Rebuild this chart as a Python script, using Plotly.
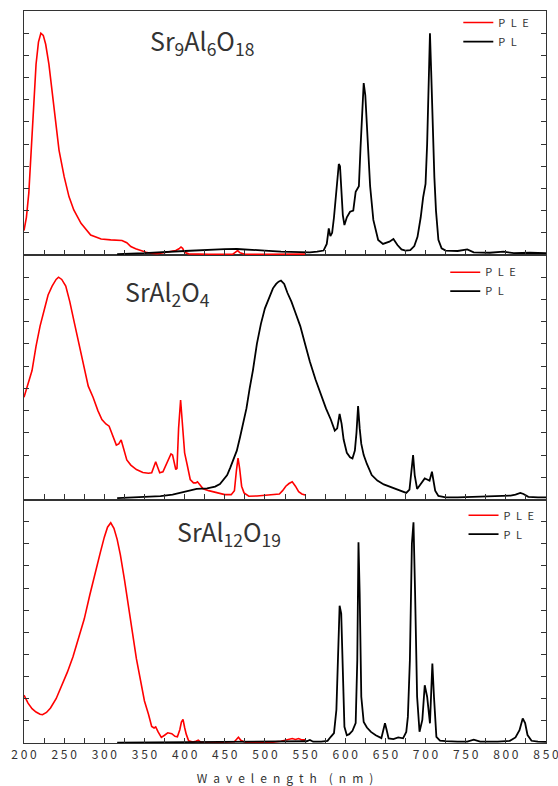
import plotly.graph_objects as go

# ---------------- data ----------------
# Top panel: Sr9Al6O18
sr9_ple_x = [200, 203, 206, 209, 212, 215, 218, 221, 224, 227, 231, 235, 239, 243.6, 250, 256, 262, 271, 283, 296,
             308, 322, 328, 333, 339, 345, 352, 358, 366, 374, 383, 389, 393, 395.5, 397.5, 400, 405, 412, 430,
             450, 460, 463, 466, 469, 475, 500, 520, 535, 550]
sr9_ple_y = [0.11, 0.17, 0.28, 0.48, 0.68, 0.86, 0.96, 1.0, 0.99, 0.95, 0.86, 0.74, 0.6, 0.473, 0.353, 0.263, 0.203,
             0.143, 0.09, 0.072, 0.068, 0.065, 0.055, 0.038, 0.028, 0.02, 0.012, 0.008, 0.006, 0.01, 0.015, 0.02,
             0.028, 0.036, 0.03, 0.012, 0.005, 0.004, 0.003, 0.003, 0.004, 0.012, 0.02, 0.01, 0.003, 0.003, 0.004,
             0.005, 0.004]

sr9_pl_x = [316, 350, 400, 430, 450, 465, 480, 500, 520, 540, 556, 565, 573, 577, 579.5, 581.5, 583.7, 586, 588, 590,
            592, 593.5, 595, 597, 599, 602, 606, 610, 613, 617, 619, 621, 623, 625, 628, 631, 635, 641, 647, 651,
            655, 660, 665, 670, 675, 681, 686, 690, 694, 697, 700, 702, 703.5, 705.5, 707, 709, 711, 713, 716,
            720, 725, 740, 752, 760, 780, 797, 810, 830, 850]
sr9_pl_y = [0.004, 0.008, 0.018, 0.024, 0.026, 0.027, 0.025, 0.02, 0.015, 0.012, 0.012, 0.015, 0.02, 0.05, 0.12,
            0.085, 0.1, 0.17, 0.26, 0.34, 0.41, 0.40, 0.30, 0.18, 0.135, 0.17, 0.195, 0.2, 0.285, 0.31, 0.48, 0.67,
            0.775, 0.72, 0.5, 0.31, 0.158, 0.068, 0.05, 0.055, 0.06, 0.072, 0.045, 0.025, 0.02, 0.022, 0.04, 0.082,
            0.17, 0.26, 0.32, 0.5, 0.75, 1.0, 0.83, 0.53, 0.35, 0.2, 0.068, 0.03, 0.02, 0.018, 0.025, 0.012, 0.01,
            0.015, 0.008, 0.01, 0.008]

# Middle panel: SrAl2O4
sral2_ple_x = [200, 205, 210, 215, 220, 225, 230, 235, 240, 243, 247, 252, 257, 263, 268, 274, 280, 286, 292, 297,
               302, 306, 310, 315, 318, 321, 324, 328, 333, 340, 348, 355, 359, 362, 364, 366, 369, 373, 377, 381,
               383, 385, 387, 389, 390.5, 392.5, 395, 397.5, 400, 403, 407, 411, 414, 416, 419, 423, 430, 440, 450,
               458, 462, 464.5, 466.5, 468.5, 471, 474, 480, 490, 500, 510, 518, 522, 526, 530, 534, 538, 542, 546,
               550]
sral2_ple_y = [0.46, 0.52, 0.58, 0.69, 0.78, 0.85, 0.92, 0.96, 0.99, 1.0, 0.99, 0.96, 0.89, 0.79, 0.71, 0.6, 0.51,
               0.46, 0.4, 0.36, 0.34, 0.33, 0.29, 0.245, 0.25, 0.268, 0.23, 0.178, 0.155, 0.135, 0.122, 0.118, 0.12,
               0.155, 0.17, 0.15, 0.12, 0.125, 0.155, 0.19, 0.205, 0.2, 0.16, 0.135, 0.14, 0.32, 0.448, 0.34, 0.21,
               0.16, 0.09, 0.075, 0.075, 0.08, 0.065, 0.048, 0.04, 0.032, 0.022, 0.022, 0.04, 0.13, 0.186, 0.14,
               0.06, 0.03, 0.015, 0.016, 0.02, 0.022, 0.025, 0.04, 0.06, 0.072, 0.08, 0.06, 0.035, 0.025, 0.02]

sral2_pl_x = [316, 330, 350, 370, 385, 395, 405, 415, 428, 438, 444, 449, 453, 457, 461, 465, 469, 473, 477, 481,
              485, 490, 495, 500, 505, 510, 514, 517, 520, 524, 528, 533, 538, 544, 550, 556, 563, 570, 576, 582,
              587, 590, 593, 595.5, 598, 602, 606, 609, 612, 614, 616, 618, 620, 623, 627, 633, 640, 648, 655, 662,
              670, 676, 680, 682.5, 684.5, 686.5, 689.5, 692, 695, 699, 702, 705, 708, 710, 712, 716, 725, 740,
              760, 790, 806, 812, 818, 822, 828, 840, 850]
sral2_pl_y = [0.006, 0.008, 0.012, 0.015, 0.022, 0.03, 0.04, 0.048, 0.05, 0.058, 0.07, 0.09, 0.11, 0.145, 0.18,
              0.22, 0.28, 0.34, 0.41, 0.5, 0.58, 0.7, 0.79, 0.86, 0.91, 0.95, 0.97, 0.98, 0.985, 0.97, 0.93, 0.89,
              0.84, 0.78, 0.7, 0.62, 0.54, 0.47, 0.41, 0.36, 0.31, 0.32, 0.385, 0.34, 0.27, 0.21, 0.19, 0.185, 0.22,
              0.3, 0.42, 0.32, 0.25, 0.2, 0.16, 0.11, 0.085, 0.068, 0.058, 0.048, 0.036, 0.03, 0.045, 0.15, 0.2,
              0.11, 0.048, 0.06, 0.075, 0.095, 0.09, 0.085, 0.125, 0.08, 0.04, 0.016, 0.01, 0.01, 0.012, 0.014,
              0.018, 0.022, 0.03, 0.025, 0.012, 0.01, 0.01]

# Bottom panel: SrAl12O19
sral12_ple_x = [200, 205, 210, 215, 220, 223, 228, 233, 240, 247, 254, 261, 268, 275, 282, 289, 295, 300, 304, 308,
                312, 316, 320, 325, 330, 335, 340, 345, 350, 355, 359, 362, 364, 367, 371, 375, 379, 384, 388, 391,
                394, 396, 398, 400, 402, 405, 410, 414, 417, 420, 425, 440, 455, 462, 465, 467, 470, 475, 490, 510,
                520, 525, 530, 534, 538, 542, 546, 550]
sral12_ple_y = [0.216, 0.18, 0.155, 0.14, 0.13, 0.128, 0.138, 0.158, 0.2, 0.26, 0.32, 0.39, 0.47, 0.56, 0.67, 0.78,
                0.86, 0.93, 0.975, 0.995, 0.97, 0.92, 0.85, 0.74, 0.63, 0.5, 0.38, 0.28, 0.19, 0.13, 0.075, 0.068,
                0.073, 0.05, 0.025, 0.035, 0.046, 0.042, 0.03, 0.028, 0.06, 0.095, 0.107, 0.07, 0.04, 0.01, 0.004,
                0.008, 0.013, 0.004, 0.002, 0.002, 0.003, 0.006, 0.018, 0.026, 0.012, 0.004, 0.004, 0.004, 0.008,
                0.012, 0.014, 0.02, 0.016, 0.02, 0.014, 0.014]

sral12_pl_x = [316, 350, 400, 450, 500, 540, 552, 556, 560, 570, 578, 582, 586, 589, 591, 593, 595, 597, 599, 602,
               605, 609, 613, 615, 616.5, 618, 620, 623, 627, 632, 638, 645, 647.5, 649.5, 651.5, 654, 660, 666, 672,
               676, 678, 680.5, 683, 685, 687, 689.5, 692.5, 696, 699, 702, 705.5, 708.5, 710.5, 713.5, 718, 725,
               740, 752, 760, 768, 790, 805, 812, 817, 821, 824, 827, 832, 840, 850]
sral12_pl_y = [0.002, 0.003, 0.004, 0.004, 0.005, 0.006, 0.008, 0.014, 0.006, 0.006, 0.01, 0.028, 0.045, 0.15, 0.45,
               0.62, 0.585, 0.3, 0.073, 0.035, 0.04, 0.055, 0.09, 0.374, 0.907, 0.674, 0.209, 0.095, 0.07, 0.05,
               0.035, 0.022, 0.06, 0.089, 0.06, 0.021, 0.018, 0.025, 0.021, 0.05, 0.118, 0.374, 0.9, 0.997, 0.675,
               0.209, 0.051, 0.104, 0.261, 0.209, 0.089, 0.359, 0.209, 0.028, 0.011, 0.008, 0.006, 0.006, 0.015,
               0.006, 0.006, 0.01, 0.025, 0.058, 0.111, 0.09, 0.036, 0.01, 0.006, 0.005]

panel_labels = ["Sr<sub>9</sub>Al<sub>6</sub>O<sub>18</sub>",
                "SrAl<sub>2</sub>O<sub>4</sub>",
                "SrAl<sub>12</sub>O<sub>19</sub>"]
EN = "\u2002"
series_names = [EN.join("PLE"), EN.join("PL")]
tick_values = list(range(200, 851, 50))
tick_labels = [" ".join(str(v)) for v in tick_values]
x_title = EN.join("Wavelength") + EN + EN + EN.join("(nm)")

# ---------------- figure ----------------
FONT = "Noto Sans CJK JP"
TXT = "#333333"
RED = "#ff0000"
BLK = "#000000"

fig = go.Figure()

panels = [
    # (ple_x, ple_y, pl_x, pl_y, xaxis, yaxis, legend)
    (sr9_ple_x, sr9_ple_y, sr9_pl_x, sr9_pl_y, "x3", "y3", "legend"),
    (sral2_ple_x, sral2_ple_y, sral2_pl_x, sral2_pl_y, "x2", "y2", "legend2"),
    (sral12_ple_x, sral12_ple_y, sral12_pl_x, sral12_pl_y, "x", "y", "legend3"),
]
for ple_x, ple_y, pl_x, pl_y, xa, ya, lg in panels:
    assert len(ple_x) == len(ple_y) and len(pl_x) == len(pl_y)
    fig.add_trace(go.Scatter(x=ple_x, y=ple_y, mode="lines", name=series_names[0],
                             line=dict(color=RED, width=1.6), xaxis=xa, yaxis=ya, legend=lg))
    fig.add_trace(go.Scatter(x=pl_x, y=pl_y, mode="lines", name=series_names[1],
                             line=dict(color=BLK, width=1.8), xaxis=xa, yaxis=ya, legend=lg))

axis_common = dict(showline=True, linecolor="#333333", linewidth=1.2, showgrid=False, zeroline=False,
                   automargin=False)
xcommon = dict(axis_common, range=[200, 850], tickmode="array", tickvals=tick_values, ticktext=tick_labels,
               ticks="inside", ticklen=5, tickcolor="#333333", tickwidth=1, mirror=True,
               minor=dict(tickmode="linear", tick0=200, dtick=25, ticks="inside", ticklen=5,
                          tickcolor="#333333", tickwidth=1, showgrid=False))
ycommon = dict(axis_common, range=[0, 1.1], tickmode="array", tickvals=[i / 10 for i in range(12)],
               ticks="inside", ticklen=5, tickcolor="#333333", tickwidth=1, mirror="ticks",
               showticklabels=False)

fig.update_layout(
    width=558, height=786,
    margin=dict(l=24, r=12, t=11, b=43, autoexpand=False),
    paper_bgcolor="white", plot_bgcolor="white",
    font=dict(family=FONT, color=TXT),
    xaxis=dict(xcommon, anchor="y", showticklabels=True, ticklabeloverflow="allow", ticklabelstandoff=0,
               tickfont=dict(size=12, color=TXT, family=FONT),
               title=dict(text=x_title, font=dict(size=12, color=TXT, family=FONT), standoff=20)),
    xaxis2=dict(xcommon, anchor="y2", matches="x", showticklabels=False),
    xaxis3=dict(xcommon, anchor="y3", matches="x", showticklabels=False),
    yaxis=dict(ycommon, domain=[0, 0.3326], anchor="x"),
    yaxis2=dict(ycommon, domain=[0.3326, 0.6667], anchor="x2"),
    yaxis3=dict(ycommon, domain=[0.6667, 1.0], anchor="x3"),
)

leg_common = dict(bgcolor="rgba(0,0,0,0)", font=dict(size=11, color=TXT, family=FONT),
                  xanchor="left", yanchor="top", tracegroupgap=0, itemwidth=30)
fig.update_layout(
    legend=dict(leg_common, x=0.832, y=1.004),
    legend2=dict(leg_common, x=0.807, y=0.663),
    legend3=dict(leg_common, x=0.842, y=0.331),
)

label_pos = [(0.238, 0.959), (0.19, 0.615), (0.29, 0.288)]
for text, (px, py) in zip(panel_labels, label_pos):
    fig.add_annotation(text=text, xref="paper", yref="paper", x=px, y=py, xanchor="left", yanchor="middle",
                       showarrow=False, font=dict(size=25, color=TXT, family=FONT))

fig.write_html("out.html", config={"displayModeBar": False},
               post_script="document.body.style.margin='0';document.body.style.padding='0';")
